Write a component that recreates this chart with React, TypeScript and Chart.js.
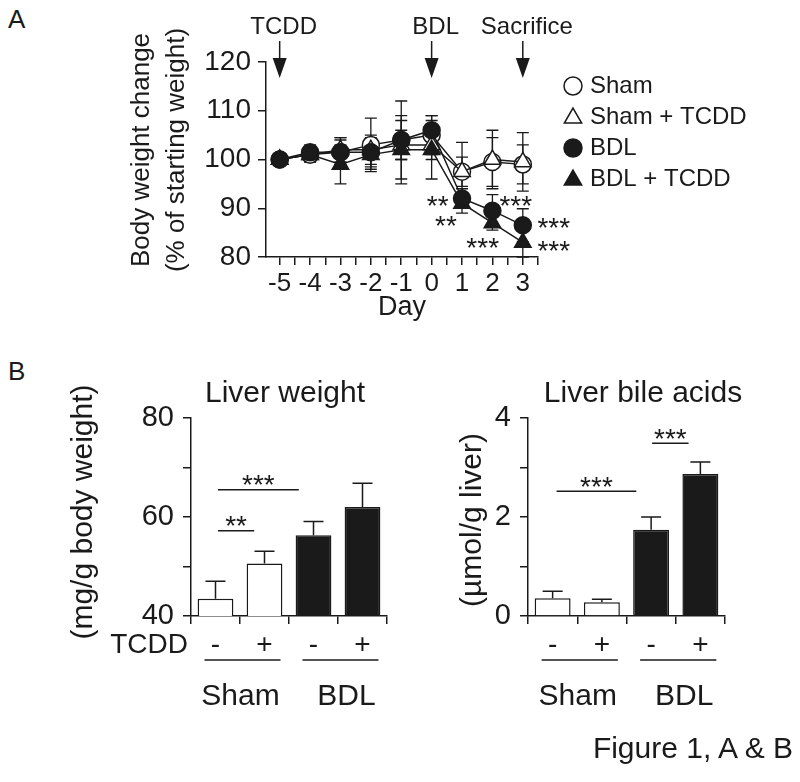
import React, { useEffect, useRef } from "react";
import { Chart, registerables } from "chart.js";

Chart.register(...registerables);

const INK = "#1a1a1a";
const SANS = "'Liberation Sans', Arial, Helvetica, sans-serif";

// ---------- Panel A: body weight change ----------
const DAYS = [-5, -4, -3, -2, -1, 0, 1, 2, 3];
const SERIES_NAMES = ["Sham", "Sham + TCDD", "BDL", "BDL + TCDD"];
const SHAM = [100, 101, 101.5, 103, 104, 105, 97.5, 99.5, 99];
const SHAM_ERR = [0.5, 1.5, 3, 5.5, 8, 4, 6, 5, 4];
const SHAM_TCDD = [100, 101, 102, 102, 103, 103, 97.5, 100, 99.5];
const SHAM_TCDD_ERR = [0.5, 1.5, 2.5, 3, 3, 3, 3, 6, 6];
const BDL = [100, 101.5, 101.5, 101.5, 104, 106, 92, 89.5, 86.5];
const BDL_ERR = [0.5, 1.5, 2.5, 3, 4, 3, 2, 3.3, 3.4];
const BDL_TCDD = [100, 101, 99, 101, 102, 102, 91, 87, 83];
const BDL_TCDD_ERR = [0.5, 1.5, 4, 3, 7, 6, 2, 1.5, 3];

const ARROW_DAYS = [-5, 0, 3];
const ARROW_LABELS = ["TCDD", "BDL", "Sacrifice"];

const STAR_TEXT = ["**", "**", "***", "***", "***", "***"];
const STAR_DAY = [0.2, 0.47, 2.77, 1.68, 4.02, 4.02];
const STAR_VALUE = [92, 87.8, 92, 83.3, 87.4, 82.7];

// ---------- Panel B: bars ----------
const TCDD_SIGNS = ["-", "+", "-", "+"];
const GROUPS = ["Sham", "BDL"];
const BAR_FILLS = ["#ffffff", "#ffffff", "#1a1a1a", "#1a1a1a"];

const LIVER_WEIGHT = [43.5, 50.6, 56.3, 62.0];
const LIVER_WEIGHT_ERR = [3.5, 2.5, 2.8, 4.8];
const LW_SIG_FROM = [0.05, 0.05];
const LW_SIG_TO = [1.7, 0.79];
const LW_SIG_AT = [65.5, 57.2];
const LW_SIG_TEXT = ["***", "**"];

const BILE_ACIDS = [0.36, 0.28, 1.74, 2.87];
const BILE_ACIDS_ERR = [0.14, 0.06, 0.26, 0.24];
const BA_SIG_FROM = [0.08, 2.02];
const BA_SIG_TO = [1.7, 2.76];
const BA_SIG_AT = [2.52, 3.49];
const BA_SIG_TEXT = ["***", "***"];

const font = (size: number) => `${size}px ${SANS}`;

function drawStars(ctx: CanvasRenderingContext2D, text: string, cx: number, cy: number, size: number) {
  ctx.font = font(size);
  ctx.textAlign = "center";
  ctx.textBaseline = "alphabetic";
  ctx.fillText(text, cx, cy + size * 0.59);
}

function vText(ctx: CanvasRenderingContext2D, text: string, x: number, y: number, size: number) {
  ctx.save();
  ctx.translate(x, y);
  ctx.rotate(-Math.PI / 2);
  ctx.font = font(size);
  ctx.textAlign = "center";
  ctx.textBaseline = "middle";
  ctx.fillText(text, 0, 0);
  ctx.restore();
}

function drawMarker(ctx: CanvasRenderingContext2D, style: string, filled: boolean, x: number, y: number, r: number) {
  ctx.beginPath();
  if (style === "circle") {
    ctx.arc(x, y, r, 0, Math.PI * 2);
  } else {
    let rad = 0;
    ctx.moveTo(x + Math.sin(rad) * r, y - Math.cos(rad) * r);
    rad += (2 * Math.PI) / 3;
    ctx.lineTo(x + Math.sin(rad) * r, y - Math.cos(rad) * r);
    rad += (2 * Math.PI) / 3;
    ctx.lineTo(x + Math.sin(rad) * r, y - Math.cos(rad) * r);
    ctx.closePath();
  }
  ctx.fillStyle = filled ? INK : "#ffffff";
  ctx.fill();
  ctx.lineWidth = 1.5;
  ctx.strokeStyle = INK;
  ctx.stroke();
}

const SERIES_VALUES = [SHAM, SHAM_TCDD, BDL, BDL_TCDD];
const SERIES_ERRS = [SHAM_ERR, SHAM_TCDD_ERR, BDL_ERR, BDL_TCDD_ERR];
const SERIES_SHAPE = ["circle", "triangle", "circle", "triangle"];
const SERIES_FILLED = [false, false, true, true];
const SERIES_ORDER = [4, 3, 1, 2];

const panelAPlugin = {
  id: "panelA",
  beforeDatasetsDraw(chart: any) {
    const ctx = chart.ctx as CanvasRenderingContext2D;
    const y = chart.scales.y;
    ctx.save();
    ctx.strokeStyle = INK;
    ctx.lineWidth = 1.3;
    SERIES_VALUES.forEach((vals, i) => {
      const meta = chart.getDatasetMeta(i);
      meta.data.forEach((pt: any, j: number) => {
        const e = SERIES_ERRS[i][j];
        const yt = y.getPixelForValue(vals[j] + e);
        const yb = y.getPixelForValue(vals[j] - e);
        ctx.beginPath();
        ctx.moveTo(pt.x, yt);
        ctx.lineTo(pt.x, yb);
        ctx.moveTo(pt.x - 6, yt);
        ctx.lineTo(pt.x + 6, yt);
        ctx.moveTo(pt.x - 6, yb);
        ctx.lineTo(pt.x + 6, yb);
        ctx.stroke();
      });
    });
    ctx.restore();
  },
  afterDraw(chart: any) {
    const ctx = chart.ctx as CanvasRenderingContext2D;
    const x = chart.scales.x;
    const y = chart.scales.y;
    ctx.save();
    ctx.fillStyle = INK;
    ctx.strokeStyle = INK;
    // arrows + labels
    ARROW_DAYS.forEach((d, i) => {
      const px = x.getPixelForValue(d);
      ctx.lineWidth = 1.5;
      ctx.beginPath();
      ctx.moveTo(px, 41);
      ctx.lineTo(px, 60);
      ctx.stroke();
      ctx.beginPath();
      ctx.moveTo(px - 7, 58);
      ctx.lineTo(px + 7, 58);
      ctx.lineTo(px, 78);
      ctx.closePath();
      ctx.fill();
      ctx.font = font(24);
      ctx.textAlign = "center";
      ctx.textBaseline = "middle";
      ctx.fillText(ARROW_LABELS[i], px + 4, 27);
    });
    // significance stars
    STAR_TEXT.forEach((t, i) => {
      drawStars(ctx, t, x.getPixelForValue(STAR_DAY[i]), y.getPixelForValue(STAR_VALUE[i]), 28);
    });
    // axis titles
    vText(ctx, "Body weight change", 142, 150, 26);
    vText(ctx, "(% of starting weight)", 177, 150, 26);
    ctx.font = font(27);
    ctx.textAlign = "center";
    ctx.textBaseline = "middle";
    ctx.fillText("Day", (chart.chartArea.left + chart.chartArea.right) / 2, 308);
    // legend
    SERIES_NAMES.forEach((name, i) => {
      const ly = 86 + i * 31;
      drawMarker(ctx, SERIES_SHAPE[i], SERIES_FILLED[i], 573, ly + (SERIES_SHAPE[i] === "triangle" ? 1 : 0), SERIES_SHAPE[i] === "triangle" ? 10 : 9);
      ctx.fillStyle = INK;
      ctx.font = font(24);
      ctx.textAlign = "left";
      ctx.textBaseline = "middle";
      ctx.fillText(name, 590, ly);
    });
    ctx.restore();
  },
};

function panelAConfig(): any {
  const datasets = SERIES_VALUES.map((vals, i) => ({
    label: SERIES_NAMES[i],
    data: DAYS.map((d, j) => ({ x: d, y: vals[j] })),
    borderColor: INK,
    borderWidth: 1.5,
    backgroundColor: SERIES_FILLED[i] ? INK : "#ffffff",
    pointStyle: SERIES_SHAPE[i],
    pointRadius: SERIES_SHAPE[i] === "triangle" ? 9.5 : 8.5,
    pointBorderWidth: 1.5,
    pointBackgroundColor: SERIES_FILLED[i] ? INK : "#ffffff",
    pointBorderColor: INK,
    tension: 0,
    fill: false,
    order: SERIES_ORDER[i],
  }));
  const axisCommon = {
    grid: { drawOnChartArea: false, drawTicks: true, tickLength: 8, color: INK, lineWidth: 1.5 },
    border: { display: true, color: INK, width: 1.5 },
  };
  return {
    type: "line",
    data: { datasets },
    options: {
      animation: false,
      responsive: false,
      layout: { padding: { left: 100, right: 262, top: 62, bottom: 38 } },
      plugins: { legend: { display: false }, tooltip: { enabled: false }, title: { display: false } },
      scales: {
        x: {
          type: "linear",
          min: -5.45,
          max: 3.5,
          afterFit: (s: any) => {
            s.height = 50;
          },
          ticks: {
            stepSize: 0.5,
            includeBounds: false,
            autoSkip: false,
            maxRotation: 0,
            padding: 3,
            color: INK,
            font: { family: SANS, size: 26 },
            callback: (v: number) => (Number.isInteger(v) ? String(v) : ""),
          },
          ...axisCommon,
        },
        y: {
          type: "linear",
          min: 80,
          max: 120,
          afterFit: (s: any) => {
            s.width = 166;
          },
          ticks: {
            stepSize: 5,
            padding: 7,
            color: INK,
            font: { family: SANS, size: 28 },
            callback: (v: number) => (v % 10 === 0 ? String(v) : ""),
          },
          ...axisCommon,
        },
      },
    },
    plugins: [panelAPlugin],
  };
}

function barPlugin(p: {
  title: string;
  titleX: number;
  yTitle: string;
  yTitleX: number;
  yTitleY: number;
  values: number[];
  errors: number[];
  sigFrom: number[];
  sigTo: number[];
  sigAt: number[];
  sigText: string[];
  showTcdd: boolean;
}) {
  return {
    id: "barPanel",
    afterDatasetsDraw(chart: any) {
      const ctx = chart.ctx as CanvasRenderingContext2D;
      const x = chart.scales.x;
      const y = chart.scales.y;
      ctx.save();
      ctx.strokeStyle = INK;
      ctx.fillStyle = INK;
      ctx.lineWidth = 1.5;
      const meta = chart.getDatasetMeta(0);
      meta.data.forEach((bar: any, i: number) => {
        const base = y.getPixelForValue(p.values[i]);
        const top = y.getPixelForValue(p.values[i] + p.errors[i]);
        ctx.beginPath();
        ctx.moveTo(bar.x, base);
        ctx.lineTo(bar.x, top);
        ctx.moveTo(bar.x - 10, top);
        ctx.lineTo(bar.x + 10, top);
        ctx.stroke();
      });
      const c0 = x.getPixelForValue(0);
      const step = x.getPixelForValue(1) - c0;
      // significance brackets
      p.sigText.forEach((t, i) => {
        const x1 = c0 + p.sigFrom[i] * step;
        const x2 = c0 + p.sigTo[i] * step;
        const py = y.getPixelForValue(p.sigAt[i]);
        ctx.beginPath();
        ctx.moveTo(x1, py);
        ctx.lineTo(x2, py);
        ctx.stroke();
        drawStars(ctx, t, (x1 + x2) / 2, py - 12, 28);
      });
      // group underlines and names
      GROUPS.forEach((g, gi) => {
        const a = c0 + gi * 2 * step - 11;
        const b = c0 + (gi * 2 + 1) * step + 16;
        ctx.beginPath();
        ctx.moveTo(a, 300);
        ctx.lineTo(b, 300);
        ctx.stroke();
        ctx.font = font(30);
        ctx.textAlign = "center";
        ctx.textBaseline = "middle";
        ctx.fillText(g, (a + b) / 2 + (gi === 0 ? -2 : 6), 337);
      });
      if (p.showTcdd) {
        ctx.font = font(28);
        ctx.textAlign = "right";
        ctx.textBaseline = "middle";
        ctx.fillText("TCDD", 188, 285);
      }
      // titles
      ctx.font = font(30);
      ctx.textAlign = "center";
      ctx.textBaseline = "middle";
      ctx.fillText(p.title, p.titleX, 34);
      vText(ctx, p.yTitle, p.yTitleX, p.yTitleY, 30);
      ctx.restore();
    },
  };
}

function barConfig(
  values: number[],
  min: number,
  max: number,
  step: number,
  labelEvery: number,
  padding: { left: number; right: number },
  plugin: any
): any {
  const axisCommon = {
    grid: { drawOnChartArea: false, drawTicks: true, tickLength: 8, color: INK, lineWidth: 1.5 },
    border: { display: true, color: INK, width: 1.5 },
  };
  return {
    type: "bar",
    data: {
      labels: TCDD_SIGNS,
      datasets: [
        {
          data: values,
          backgroundColor: BAR_FILLS,
          borderColor: INK,
          borderWidth: 1.5,
          barPercentage: 0.73,
          categoryPercentage: 1,
        },
      ],
    },
    options: {
      animation: false,
      responsive: false,
      layout: { padding: { left: padding.left, right: padding.right, top: 58, bottom: 84 } },
      plugins: { legend: { display: false }, tooltip: { enabled: false }, title: { display: false } },
      scales: {
        x: {
          type: "category",
          afterFit: (s: any) => {
            s.height = 40;
          },
          ticks: { padding: 4, color: INK, font: { family: SANS, size: 28 }, autoSkip: false, maxRotation: 0 },
          ...axisCommon,
          grid: { ...axisCommon.grid, offset: true },
        },
        y: {
          type: "linear",
          min,
          max,
          afterFit: (s: any) => {
            s.width = 80;
          },
          ticks: {
            stepSize: step,
            padding: 9,
            color: INK,
            font: { family: SANS, size: 29 },
            callback: (v: number) => (Math.abs(v / labelEvery - Math.round(v / labelEvery)) < 1e-6 ? String(v) : ""),
          },
          ...axisCommon,
        },
      },
    },
    plugins: [plugin],
  };
}

function ChartBox(props: { make: () => any; left: number; top: number; width: number; height: number }) {
  const ref = useRef<HTMLCanvasElement>(null);
  useEffect(() => {
    const chart = new Chart(ref.current as HTMLCanvasElement, props.make());
    return () => chart.destroy();
  }, []);
  return (
    <canvas
      ref={ref}
      width={props.width}
      height={props.height}
      style={{ position: "absolute", left: props.left, top: props.top, width: props.width, height: props.height }}
    />
  );
}

const textStyle: React.CSSProperties = {
  position: "absolute",
  fontFamily: SANS,
  color: INK,
  lineHeight: 1,
  whiteSpace: "nowrap",
};

export default function App() {
  return (
    <div style={{ position: "absolute", left: 0, top: 0, width: 800, height: 782, background: "#fff", overflow: "hidden" }}>
      <div style={{ ...textStyle, left: 8, top: 6, fontSize: 26 }}>A</div>
      <div style={{ ...textStyle, left: 8, top: 358, fontSize: 26 }}>B</div>
      <ChartBox make={panelAConfig} left={0} top={0} width={800} height={345} />
      <ChartBox
        make={() =>
          barConfig(LIVER_WEIGHT, 40, 80, 10, 20, { left: 111, right: 13 },
            barPlugin({
              title: "Liver weight",
              titleX: 285,
              yTitle: "(mg/g body weight)",
              yTitleX: 84,
              yTitleY: 152,
              values: LIVER_WEIGHT,
              errors: LIVER_WEIGHT_ERR,
              sigFrom: LW_SIG_FROM,
              sigTo: LW_SIG_TO,
              sigAt: LW_SIG_AT,
              sigText: LW_SIG_TEXT,
              showTcdd: true,
            })
          )
        }
        left={0}
        top={360}
        width={400}
        height={380}
      />
      <ChartBox
        make={() =>
          barConfig(BILE_ACIDS, 0, 4, 1, 2, { left: 48, right: 75 },
            barPlugin({
              title: "Liver bile acids",
              titleX: 243,
              yTitle: "(\u00b5mol/g liver)",
              yTitleX: 73,
              yTitleY: 160,
              values: BILE_ACIDS,
              errors: BILE_ACIDS_ERR,
              sigFrom: BA_SIG_FROM,
              sigTo: BA_SIG_TO,
              sigAt: BA_SIG_AT,
              sigText: BA_SIG_TEXT,
              showTcdd: false,
            })
          )
        }
        left={400}
        top={360}
        width={400}
        height={380}
      />
      <div style={{ ...textStyle, right: 7, top: 733, fontSize: 30 }}>Figure 1, A &amp; B</div>
    </div>
  );
}
